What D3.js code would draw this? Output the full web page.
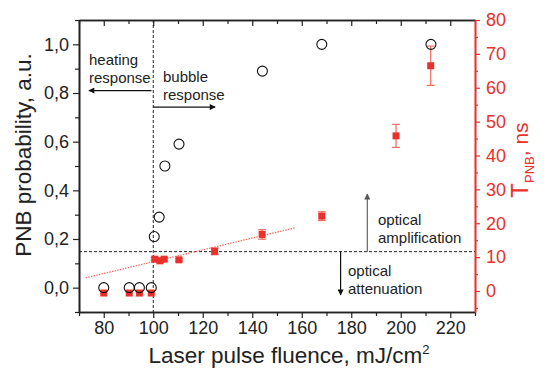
<!DOCTYPE html>
<html>
<head>
<meta charset="utf-8">
<script src="https://cdn.jsdelivr.net/npm/d3@7"></script>
<style>
  body { margin: 0; background: #fff; }
  svg { display: block; font-family: "Liberation Sans", Arial, sans-serif; }
</style>
</head>
<body>
<svg id="canvas"></svg>
<script>
// PNB probability (left axis, open circles)
const probX = [80, 90.3, 94.4, 99.2, 100.4, 102.4, 104.7, 110.4, 144.1, 168.1, 212.2];
const probY = [0, 0, 0, 0, 0.21, 0.29, 0.50, 0.59, 0.89, 1.0, 1.0];

// T_PNB lifetime (right axis, red squares with error bars)
const tpnbX = [80, 90.3, 94.4, 99.2, 100.6, 102.7, 104.4, 110.4, 124.8, 144.0, 168.1, 198.1, 212.1];
const tpnbY = [-0.6, -0.6, -0.6, -0.6, 9.4, 8.9, 9.4, 9.2, 11.7, 16.7, 22.1, 45.8, 66.5];
const tpnbErr = [0, 0, 0, 0, 0.5, 0.4, 0.5, 0.4, 1.0, 1.4, 1.3, 3.4, 5.8];

// linear fit (right axis)
const fitX = [72.7, 157.6];
const fitY = [3.9, 18.7];

const xTicks = [80, 100, 120, 140, 160, 180, 200, 220];
const xMinor = [70, 90, 110, 130, 150, 170, 190, 210, 230];
const yLTicks = [0, 0.2, 0.4, 0.6, 0.8, 1.0];
const yLMinor = [-0.1, 0.1, 0.3, 0.5, 0.7, 0.9, 1.1];
const yRTicks = [0, 10, 20, 30, 40, 50, 60, 70, 80];
const yRMinor = [-5, 5, 15, 25, 35, 45, 55, 65, 75];

const thresholdFluence = 100;
const thresholdProb = 0.148;

const width = 546;
const height = 369;
const mLeft = 79, mRight = 475, mTop = 20, mBottom = 312;
const red = '#e8302c';
const redLight = '#f26a5e';

const svg = d3.select('#canvas').attr('width', width).attr('height', height);

const x = d3.scaleLinear().domain([70, 230]).range([mLeft, mRight]);
const yL = d3.scaleLinear().domain([-0.1, 1.1]).range([mBottom, mTop]);
const yR = d3.scaleLinear().domain([-6.2, 80]).range([mBottom, mTop]);

// arrow markers
const defs = svg.append('defs');
const marker = (id, color) => defs.append('marker')
    .attr('id', id)
    .attr('viewBox', '0 0 10 10')
    .attr('refX', 9).attr('refY', 5)
    .attr('markerWidth', 8).attr('markerHeight', 6)
    .attr('markerUnits', 'userSpaceOnUse')
    .attr('orient', 'auto')
    .append('path').attr('d', 'M0,0 L10,5 L0,10 z').attr('fill', color);
marker('arrBlack', '#111');
marker('arrGray', '#555');

// axes
const fmtL = d => d3.format('.1f')(d).replace('.', ',');

const styleAxis = (g, color) => {
    g.selectAll('path').attr('stroke', color).attr('stroke-width', 1.6);
    g.selectAll('line').attr('stroke', color).attr('stroke-width', 1.2);
    g.selectAll('text').attr('fill', color).style('font-size', '18px').style('font-family', '"Liberation Sans", Arial, sans-serif');
};

// bottom
svg.append('g').attr('transform', `translate(0,${mBottom})`)
    .call(d3.axisBottom(x).tickValues(xMinor).tickSize(4).tickFormat('').tickSizeOuter(0))
    .call(g => styleAxis(g, '#222'));
svg.append('g').attr('transform', `translate(0,${mBottom})`)
    .call(d3.axisBottom(x).tickValues(xTicks).tickSize(6).tickPadding(3).tickSizeOuter(0))
    .call(g => styleAxis(g, '#222'));

// top (ticks pointing inward)
svg.append('g').attr('transform', `translate(0,${mTop})`)
    .call(d3.axisBottom(x).tickValues(xMinor).tickSize(4).tickFormat('').tickSizeOuter(0))
    .call(g => styleAxis(g, '#222'));
svg.append('g').attr('transform', `translate(0,${mTop})`)
    .call(d3.axisBottom(x).tickValues(xTicks).tickSize(6).tickFormat('').tickSizeOuter(0))
    .call(g => styleAxis(g, '#222'));

// left
svg.append('g').attr('transform', `translate(${mLeft},0)`)
    .call(d3.axisLeft(yL).tickValues(yLMinor).tickSize(4).tickFormat('').tickSizeOuter(0))
    .call(g => styleAxis(g, '#222'));
svg.append('g').attr('transform', `translate(${mLeft},0)`)
    .call(d3.axisLeft(yL).tickValues(yLTicks).tickSize(6).tickPadding(4).tickFormat(fmtL).tickSizeOuter(0))
    .call(g => styleAxis(g, '#222'));

// right
svg.append('g').attr('transform', `translate(${mRight},0)`)
    .call(d3.axisRight(yR).tickValues(yRMinor).tickSize(3).tickFormat('').tickSizeOuter(0))
    .call(g => styleAxis(g, red));
svg.append('g').attr('transform', `translate(${mRight},0)`)
    .call(d3.axisRight(yR).tickValues(yRTicks).tickSize(5).tickPadding(6).tickSizeOuter(0))
    .call(g => styleAxis(g, red));

// threshold dashed lines
svg.append('line')
    .attr('x1', x(thresholdFluence)).attr('x2', x(thresholdFluence))
    .attr('y1', mTop).attr('y2', mBottom)
    .attr('stroke', '#222').attr('stroke-width', 1).attr('stroke-dasharray', '3,2');
svg.append('line')
    .attr('x1', mLeft).attr('x2', mRight)
    .attr('y1', yL(thresholdProb)).attr('y2', yL(thresholdProb))
    .attr('stroke', '#222').attr('stroke-width', 1).attr('stroke-dasharray', '3,2');

// fit line
svg.append('line')
    .attr('x1', x(fitX[0])).attr('y1', yR(fitY[0]))
    .attr('x2', x(fitX[1])).attr('y2', yR(fitY[1]))
    .attr('stroke', redLight).attr('stroke-width', 1.2).attr('stroke-dasharray', '1.5,1.2');

// error bars
const tpnb = tpnbX.map((v, i) => ({ x: v, y: tpnbY[i], e: tpnbErr[i] }));
const eb = svg.append('g').attr('stroke', redLight).attr('stroke-width', 1.2);
tpnb.filter(d => d.e > 0).forEach(d => {
    eb.append('line').attr('x1', x(d.x)).attr('x2', x(d.x)).attr('y1', yR(d.y - d.e)).attr('y2', yR(d.y + d.e));
    [d.y - d.e, d.y + d.e].forEach(v => {
        eb.append('line').attr('x1', x(d.x) - 4).attr('x2', x(d.x) + 4).attr('y1', yR(v)).attr('y2', yR(v));
    });
});

// squares
svg.append('g').selectAll('rect')
    .data(tpnb)
    .enter()
    .append('rect')
    .attr('x', d => x(d.x) - 3.5)
    .attr('y', d => yR(d.y) - 3.5)
    .attr('width', 7).attr('height', 7)
    .attr('fill', red);

// circles
svg.append('g').selectAll('circle')
    .data(probX.map((v, i) => ({ x: v, y: probY[i] })))
    .enter()
    .append('circle')
    .attr('cx', d => x(d.x))
    .attr('cy', d => yL(d.y))
    .attr('r', 5)
    .attr('fill', 'none')
    .attr('stroke', '#111')
    .attr('stroke-width', 1.1);

// annotations
const note = (tx, ty, lines) => {
    const t = svg.append('text').attr('x', tx).attr('y', ty)
        .attr('fill', '#222').style('font-size', '15px');
    lines.forEach((s, i) => t.append('tspan').attr('x', tx).attr('dy', i ? 18 : 0).text(s));
};
const arrow = (x1, y1, x2, y2, color, id) => svg.append('line')
    .attr('x1', x1).attr('y1', y1).attr('x2', x2).attr('y2', y2)
    .attr('stroke', color).attr('stroke-width', 1.2)
    .attr('marker-end', `url(#${id})`);

note(89, 65, ['heating', 'response']);
arrow(x(99.3), yL(0.81), x(74), yL(0.81), '#111', 'arrBlack');

note(163, 82, ['bubble', 'response']);
arrow(x(100), yL(0.742), x(125), yL(0.742), '#111', 'arrBlack');

note(378, 225, ['optical', 'amplification']);
arrow(x(186.5), yL(thresholdProb), x(186.5), yL(0.385), '#666', 'arrGray');

note(348, 276, ['optical', 'attenuation']);
arrow(x(175.7), yL(thresholdProb), x(175.7), yL(-0.03), '#111', 'arrBlack');

// axis titles
svg.append('text')
    .attr('x', 289).attr('y', 363)
    .attr('text-anchor', 'middle')
    .attr('fill', '#222').style('font-size', '22.5px')
    .text('Laser pulse fluence, mJ/cm')
    .append('tspan').attr('dy', -9).style('font-size', '13px').text('2');

svg.append('text')
    .attr('transform', 'translate(31,155) rotate(-90)')
    .attr('text-anchor', 'middle')
    .attr('fill', '#222').style('font-size', '22.5px')
    .text('PNB probability, a.u.');

const rt = svg.append('text')
    .attr('transform', 'translate(528,160) rotate(-90)')
    .attr('text-anchor', 'middle')
    .attr('fill', red).style('font-size', '21px');
rt.append('tspan').style('font-size', '24px').text('T');
rt.append('tspan').attr('dy', 6).style('font-size', '13px').text('PNB');
rt.append('tspan').attr('dy', -6).text(', ns');
</script>
</body>
</html>
